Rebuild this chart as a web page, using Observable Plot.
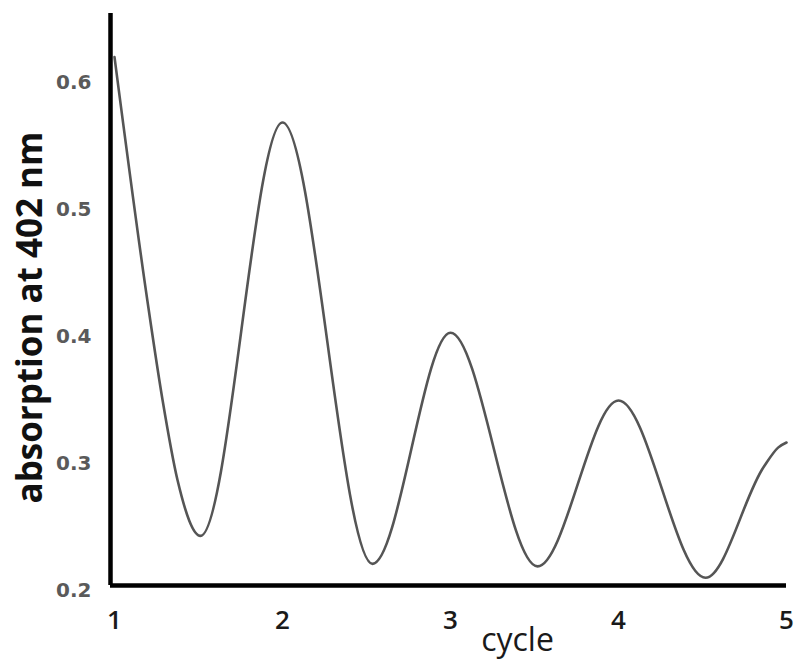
<!DOCTYPE html>
<html>
<head>
<meta charset="utf-8">
<script src="https://cdn.jsdelivr.net/npm/d3@7"></script>
<script src="https://cdn.jsdelivr.net/npm/@observablehq/plot@0.6"></script>
<style>
  html, body { margin: 0; padding: 0; background: #fff; }
  #chart svg { display: block; }
</style>
</head>
<body>
<div id="chart"></div>
<script>
// Values
const cycle      = [1.0,  1.196, 1.286, 1.375, 1.512, 2.0,   2.536, 3.0,   3.518, 4.0,    4.518, 4.863, 4.95,   5.0];
const absorption = [0.620, 0.428, 0.350, 0.287, 0.243, 0.5685, 0.221, 0.403, 0.219, 0.3496, 0.210, 0.297, 0.3125, 0.3165];
const xTicks = [1, 2, 3, 4, 5];
const yTicks = [0.2, 0.3, 0.4, 0.5, 0.6];
const xTitle = "cycle";
const yTitle = "absorption at 402 nm";

const data = cycle.map((c, i) => ({cycle: c, absorption: absorption[i]}));

const chart = Plot.plot({
  width: 800,
  height: 668,
  marginLeft: 110,
  marginRight: 14,
  marginTop: 13,
  marginBottom: 83,
  style: {background: "#fff", fontFamily: "Open Sans, sans-serif"},
  x: {domain: [1, 5], range: [114, 786]},
  y: {domain: [0.2, 0.6], range: [590, 82]},
  marks: [
    Plot.axisY({
      ticks: yTicks,
      tickSize: 0,
      tickPadding: 19,
      tickFormat: d3.format(".1f"),
      label: null,
      fontSize: 20,
      fontWeight: "bold",
      fontFamily: "DejaVu Sans, sans-serif",
      fill: "#5a5a5a"
    }),
    Plot.axisX({
      ticks: xTicks,
      tickSize: 0,
      tickPadding: 25,
      tickFormat: d3.format("d"),
      label: null,
      fontSize: 26,
      fontWeight: 600,
      fill: "#1a1a1a"
    }),
    Plot.line(data, {
      x: "cycle",
      y: "absorption",
      curve: "monotone-x",
      stroke: "#555",
      strokeWidth: 2.6
    }),
    Plot.ruleX([1], {dx: -4, stroke: "#000", strokeWidth: 4.5}),
    Plot.ruleY([0.2], {dy: -5, stroke: "#000", strokeWidth: 4.5}),
    Plot.text([yTitle], {
      text: d => d,
      frameAnchor: "left",
      rotate: -90,
      dx: -69,
      dy: 18,
      textAnchor: "middle",
      lineAnchor: "bottom",
      fontSize: 35,
      fontWeight: "bold",
      fill: "#111"
    }),
    Plot.text([xTitle], {
      text: d => d,
      frameAnchor: "bottom",
      dx: 69,
      dy: 65,
      textAnchor: "middle",
      lineAnchor: "bottom",
      fontSize: 32,
      fontWeight: 500,
      fill: "#1a1a1a"
    })
  ]
});

document.getElementById("chart").appendChild(chart);
</script>
</body>
</html>
